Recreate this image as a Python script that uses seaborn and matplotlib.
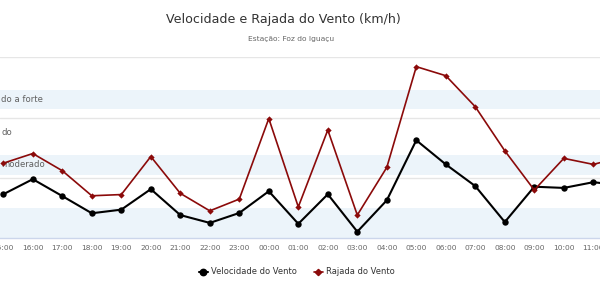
import matplotlib
matplotlib.use("Agg")
import matplotlib.pyplot as plt
from matplotlib.lines import Line2D
import matplotlib.transforms as mtransforms
import numpy as np
import pandas as pd
import seaborn as sns

# ---- data ----
horas = ['15:00', '16:00', '17:00', '18:00', '19:00', '20:00', '21:00', '22:00',
         '23:00', '00:00', '01:00', '02:00', '03:00', '04:00', '05:00', '06:00',
         '07:00', '08:00', '09:00', '10:00', '11:00', '12:00']
velocidade = [14.6, 19.6, 14.0, 8.3, 9.5, 16.3, 7.7, 5.1, 8.4, 15.6, 4.8,
              14.6, 2.2, 12.6, 32.5, 24.5, 17.3, 5.4, 17.1, 16.7, 18.6, 17.5]
rajada = [24.9, 28.1, 22.4, 14.1, 14.5, 27.1, 14.9, 9.1, 13.0, 39.7, 10.4,
          35.9, 7.7, 23.5, 56.9, 53.9, 43.6, 29.0, 16.0, 26.5, 24.5, 27.0]
faixas_inicio = [0, 21, 42.7]
faixas_fim = [10, 27.6, 49.3]
# visible (cropped) parts of the plot-band labels, as in the reference
faixas_nome = ['do a forte', 'do', 'moderado']
faixas_nome_y = [46.0, 35.0, 24.3]
titulo = 'Velocidade e Rajada do Vento (km/h)'
subtitulo = 'Estação: Foz do Iguaçu'

df = pd.DataFrame({'pos': np.arange(len(horas)), 'hora': horas,
                   'vel': velocidade, 'raj': rajada})

sns.set_theme(style='white')
plt.rcParams['font.family'] = ['DejaVu Sans']

W, H = 600, 299
fig = plt.figure(figsize=(W / 100, H / 100), dpi=100)
ax_bottom_px, ax_top_px = 238.3, 57.3
ax = fig.add_axes([0, 1 - ax_bottom_px / H, 1, (ax_bottom_px - ax_top_px) / H])

band_color = '#ecf4fa'
for a, b in zip(faixas_inicio, faixas_fim):
    ax.axhspan(a, b, color=band_color, lw=0, zorder=0)

for yv in [20, 40, 60]:
    ax.axhline(yv, color='#e6e6e6', lw=1, zorder=0.5)

sns.lineplot(data=df, x='pos', y='vel', ax=ax, color='black', lw=1.5,
             marker='o', markersize=4.6, markeredgewidth=0, zorder=3)
sns.lineplot(data=df, x='pos', y='raj', ax=ax, color='#8b0a0a', lw=1.2,
             marker='D', markersize=3.2, markeredgewidth=0, zorder=4)

px_per_cat = 29.5
x0_px = 3.3
ax.set_xticks(df['pos'])
ax.set_xticklabels(horas, fontsize=5.4, color='#666666')
ax.set_xlim(-x0_px / px_per_cat, (W - x0_px) / px_per_cat)
ax.set_ylim(0, 60)
ax.tick_params(axis='x', length=0, pad=5)
ax.set_yticks([])
ax.set_xlabel('')
ax.set_ylabel('')
for s in ['left', 'right', 'top']:
    ax.spines[s].set_visible(False)
ax.spines['bottom'].set_color('#ccd6eb')
ax.spines['bottom'].set_linewidth(1)

trans = mtransforms.blended_transform_factory(fig.transFigure, ax.transData)
for nome, yv in zip(faixas_nome, faixas_nome_y):
    ax.text(1 / W, yv, nome, transform=trans, fontsize=6.1, color='#606060',
            ha='left', va='center', clip_on=False, zorder=2)

fig.text(283 / W, 1 - 20 / H, titulo, fontsize=9.1, color='#333333',
         ha='center', va='center')
fig.text(291 / W, 1 - 39.5 / H, subtitulo, fontsize=5.4, color='#666666',
         ha='center', va='center')

handles = [Line2D([0], [0], color='black', lw=1.5, marker='o', markersize=4.6),
           Line2D([0], [0], color='#8b0a0a', lw=1.2, marker='D', markersize=3.2)]
leg = fig.legend(handles, ['Velocidade do Vento', 'Rajada do Vento'],
                 loc='center', bbox_to_anchor=(297 / W, 1 - 272 / H), ncol=2,
                 frameon=False, fontsize=6.0, handlelength=1.1, handletextpad=0.4,
                 columnspacing=2.0)
for t in leg.get_texts():
    t.set_color('#333333')

fig.savefig('out.png', dpi=100)
